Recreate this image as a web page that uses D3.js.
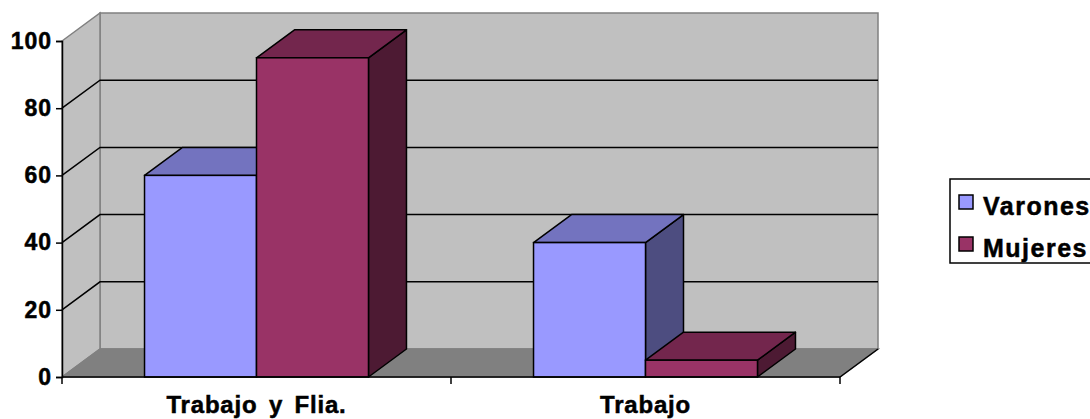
<!DOCTYPE html>
<html>
<head>
<meta charset="utf-8">
<script src="https://cdn.jsdelivr.net/npm/d3@7/dist/d3.min.js"></script>
<style>
	body { margin: 0; background: #fff; }
	text { font-family: "Liberation Sans", Arial, sans-serif; font-weight: bold; fill: #000; stroke: #000; stroke-width: 0.5px; }
</style>
</head>
<body>
<div id="chart"></div>
<script>
var categories = ["Trabajo y Flia.", "Trabajo"];
var series = ["Varones", "Mujeres"];
var varones = [60, 40];
var mujeres = [95, 5];
var yTicks = [0, 20, 40, 60, 80, 100];

var width = 1090,
	height = 419;

var front = { left: 62, right: 840, top: 41, bottom: 377 },
	dx = 38, dy = -28;

var colors = {
	Varones: { front: "#9999ff", top: "#7373bf", side: "#4d4d80" },
	Mujeres: { front: "#993366", top: "#73264d", side: "#4d1a33" }
};

var svg = d3.select("#chart")
	.append("svg")
	.attr("width", width)
	.attr("height", height);

var y = d3.scaleLinear()
	.domain([0, 100])
	.range([front.bottom, front.top]);

var x0 = d3.scaleBand()
	.domain(categories)
	.range([front.left, front.right]);

var x1 = d3.scaleBand()
	.domain(series)
	.range([0, x0.bandwidth()])
	.paddingOuter(0.737);

function pts(arr) {
	return arr.map(function (p) { return p[0] + "," + p[1]; }).join(" ");
}

// walls and floor
var walls = svg.append("g").attr("class", "walls");

walls.append("polygon")
	.attr("points", pts([[front.left + dx, y(100) + dy], [front.right + dx, y(100) + dy],
		[front.right + dx, y(0) + dy], [front.left + dx, y(0) + dy]]))
	.attr("fill", "#c0c0c0").attr("stroke", "#808080").attr("stroke-width", 1.5);

walls.append("polygon")
	.attr("points", pts([[front.left, y(100)], [front.left + dx, y(100) + dy],
		[front.left + dx, y(0) + dy], [front.left, y(0)]]))
	.attr("fill", "#c0c0c0").attr("stroke", "#808080").attr("stroke-width", 1.5);

walls.append("polygon")
	.attr("points", pts([[front.left, y(0)], [front.left + dx, y(0) + dy],
		[front.right + dx, y(0) + dy], [front.right, y(0)]]))
	.attr("fill", "#808080").attr("stroke", "#808080").attr("stroke-width", 1.5);

// gridlines on back and side wall
var grid = svg.append("g").attr("class", "grid");
yTicks.filter(function (v) { return v > 0 && v < 100; }).forEach(function (v) {
	grid.append("polyline")
		.attr("points", pts([[front.left, y(v)], [front.left + dx, y(v) + dy], [front.right + dx, y(v) + dy]]))
		.attr("fill", "none").attr("stroke", "#000").attr("stroke-width", 1.5);
});

// right floor edge
svg.append("line")
	.attr("x1", front.right).attr("y1", y(0))
	.attr("x2", front.right + dx).attr("y2", y(0) + dy)
	.attr("stroke", "#000").attr("stroke-width", 1.5);

// bars
var data = [];
categories.forEach(function (c, i) {
	data.push({ cat: c, s: "Varones", v: varones[i] });
	data.push({ cat: c, s: "Mujeres", v: mujeres[i] });
});

var bars = svg.append("g").attr("class", "bars")
	.selectAll("g.bar").data(data).enter().append("g").attr("class", "bar");

bars.each(function (d) {
	var g = d3.select(this),
		xa = x0(d.cat) + x1(d.s),
		xb = xa + x1.bandwidth(),
		yt = y(d.v),
		yb = y(0),
		c = colors[d.s];
	g.append("polygon")
		.attr("points", pts([[xb, yt], [xb + dx, yt + dy], [xb + dx, yb + dy], [xb, yb]]))
		.attr("fill", c.side).attr("stroke", "#000").attr("stroke-width", 1.5).attr("stroke-linejoin", "round");
	g.append("polygon")
		.attr("points", pts([[xa, yt], [xa + dx, yt + dy], [xb + dx, yt + dy], [xb, yt]]))
		.attr("fill", c.top).attr("stroke", "#000").attr("stroke-width", 1.5).attr("stroke-linejoin", "round");
	g.append("rect")
		.attr("x", xa).attr("y", yt)
		.attr("width", xb - xa).attr("height", yb - yt)
		.attr("fill", c.front).attr("stroke", "#000").attr("stroke-width", 1.5);
});

// y axis
var yAxis = d3.axisLeft(y).tickValues(yTicks).tickSize(6).tickPadding(4);
var gY = svg.append("g")
	.attr("transform", "translate(" + front.left + ",0)")
	.call(yAxis);
gY.select(".domain").attr("stroke", "#000").attr("stroke-width", 1.5);
gY.selectAll(".tick line").attr("stroke", "#000").attr("stroke-width", 1.5);
gY.selectAll(".tick text")
	.attr("font-size", 23)
	.attr("font-family", "Liberation Sans, Arial, sans-serif")
	.attr("font-weight", "bold")
	.attr("fill", "#000")
	.attr("letter-spacing", 1);

// x axis line, ticks at band edges, labels at centres
svg.append("line")
	.attr("x1", front.left).attr("y1", y(0))
	.attr("x2", front.right).attr("y2", y(0))
	.attr("stroke", "#000").attr("stroke-width", 1.5);

var edges = categories.map(function (c) { return x0(c); }).concat([front.right]);
svg.selectAll("line.xtick").data(edges).enter().append("line")
	.attr("class", "xtick")
	.attr("x1", function (d) { return d; }).attr("x2", function (d) { return d; })
	.attr("y1", y(0)).attr("y2", y(0) + 7)
	.attr("stroke", "#000").attr("stroke-width", 1.5);

svg.selectAll("text.cat").data(categories).enter().append("text")
	.attr("class", "cat")
	.attr("x", function (d) { return x0(d) + x0.bandwidth() / 2; })
	.attr("y", 413)
	.attr("text-anchor", "middle")
	.attr("font-size", 24)
	.attr("letter-spacing", 0.8)
	.attr("word-spacing", 4)
	.text(function (d) { return d; });

// legend
var legend = svg.append("g").attr("class", "legend");
legend.append("rect")
	.attr("x", 950).attr("y", 179).attr("width", 160).attr("height", 84)
	.attr("fill", "#fff").attr("stroke", "#000").attr("stroke-width", 1.5);

var items = legend.selectAll("g.item").data(series).enter().append("g")
	.attr("class", "item")
	.attr("transform", function (d, i) { return "translate(959," + (195 + i * 42) + ")"; });
items.append("rect")
	.attr("width", 14).attr("height", 14)
	.attr("fill", function (d) { return colors[d].front; })
	.attr("stroke", "#000").attr("stroke-width", 1.5);
items.append("text")
	.attr("x", 24).attr("y", 20)
	.attr("font-size", 25)
	.attr("letter-spacing", 1.5)
	.text(function (d) { return d; });
</script>
</body>
</html>
